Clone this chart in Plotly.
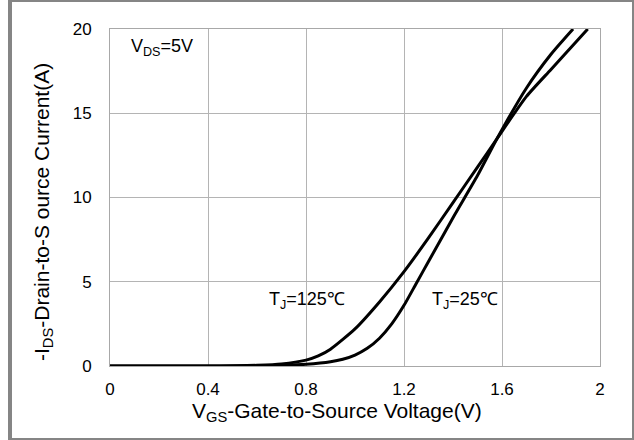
import plotly.graph_objects as go

# Gate voltage (V) and drain current (A)
vgs_125 = [0.0, 0.4, 0.5, 0.6, 0.7, 0.8, 0.85, 0.9, 1.0, 1.1, 1.2, 1.3, 1.4, 1.5, 1.58, 1.7, 1.8, 1.9, 1.95]
ids_125 = [0.0, 0.0, 0.01, 0.04, 0.12, 0.35, 0.6, 1.0, 2.2, 3.8, 5.6, 7.6, 9.7, 11.8, 13.5, 16.0, 17.6, 19.2, 20.0]

vgs_25 = [0.0, 0.6, 0.7, 0.8, 0.9, 0.95, 1.0, 1.05, 1.1, 1.15, 1.2, 1.25, 1.3, 1.4, 1.5, 1.58, 1.7, 1.8, 1.89]
ids_25 = [0.0, 0.0, 0.03, 0.1, 0.25, 0.4, 0.65, 1.05, 1.65, 2.5, 3.6, 4.9, 6.2, 8.8, 11.3, 13.5, 16.5, 18.5, 20.0]

x_ticks = [0, 0.4, 0.8, 1.2, 1.6, 2]
x_tick_text = ["0", "0.4", "0.8", "1.2", "1.6", "2"]
y_ticks = [0, 5, 10, 15, 20]
y_tick_text = ["0", "5", "10", "15", "20"]

W, H = 634, 440
L, R, T, B = 110, 34, 29, 74
PW, PH = W - L - R, H - T - B

def px(x):
    return (x - L) / PW

def py(y):
    return (H - B - y) / PH

FONT = "Arial"
TXT = "#000000"

fig = go.Figure()
fig.add_trace(go.Scatter(x=vgs_125, y=ids_125, mode="lines",
                         line=dict(color="black", width=3, shape="spline", smoothing=0.6),
                         showlegend=False, hoverinfo="skip"))
fig.add_trace(go.Scatter(x=vgs_25, y=ids_25, mode="lines",
                         line=dict(color="black", width=3, shape="spline", smoothing=0.6),
                         showlegend=False, hoverinfo="skip"))

axis_common = dict(showgrid=True, gridcolor="#b4b4b4", gridwidth=1,
                   showline=True, linecolor="#a8a8a8", linewidth=1, mirror=True,
                   zeroline=False, ticks="", tickfont=dict(family=FONT, size=17, color=TXT))

fig.update_xaxes(range=[0, 2], tickvals=x_ticks, ticktext=x_tick_text,
                 ticklabelstandoff=8, **axis_common)
fig.update_yaxes(range=[0, 20], tickvals=y_ticks, ticktext=y_tick_text,
                 ticklabelstandoff=14, **axis_common)

annos = [
    dict(x=0.078, y=18.9, xref="x", yref="y", text="V<sub>DS</sub>=5V",
         xanchor="left", yanchor="middle", font=dict(size=18)),
    dict(x=0.641, y=3.86, xref="x", yref="y", text="T<sub>J</sub>=125℃",
         xanchor="left", yanchor="middle", font=dict(size=18)),
    dict(x=1.306, y=3.86, xref="x", yref="y", text="T<sub>J</sub>=25℃",
         xanchor="left", yanchor="middle", font=dict(size=18)),
    dict(x=px(337), y=py(412), xref="paper", yref="paper",
         text="V<sub>GS</sub>-Gate-to-Source Voltage(V)",
         xanchor="center", yanchor="middle", font=dict(size=21)),
    dict(x=px(43), y=py(212), xref="paper", yref="paper",
         text="-I<sub>DS</sub>-Drain-to-S ource Current(A)", textangle=-90,
         xanchor="center", yanchor="middle", font=dict(size=21)),
]
for a in annos:
    a["showarrow"] = False
    a["font"].update(family=FONT, color=TXT)
    fig.add_annotation(**a)

# Outer gray frame
frame = "#858585"
for x0, y0, x1, y1 in [(8, 0, 12, 440), (8, 0, 634, 2), (632, 0, 634, 440), (8, 438, 634, 440)]:
    fig.add_shape(type="rect", xref="paper", yref="paper",
                  x0=px(x0), x1=px(x1), y0=py(y1), y1=py(y0),
                  line=dict(width=0), fillcolor=frame, layer="above")

fig.update_layout(width=W, height=H, margin=dict(l=L, r=R, t=T, b=B),
                  paper_bgcolor="white", plot_bgcolor="white",
                  font=dict(family=FONT, color=TXT))

fig.write_html("out.html")
